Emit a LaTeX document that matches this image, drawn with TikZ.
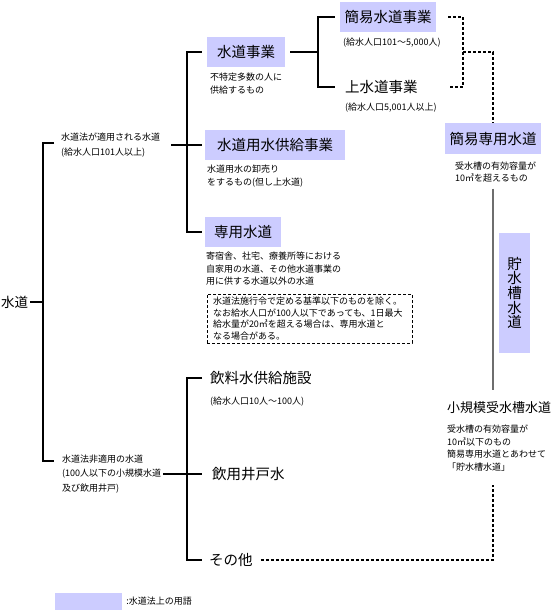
\documentclass[tikz,border=0pt]{standalone}
\usepackage{fontspec}
\setmainfont{Noto Sans CJK JP}
\usepackage{tikz}
\usetikzlibrary{positioning, calc}
\definecolor{termcolor}{RGB}{204,204,255}
\definecolor{linegray}{RGB}{110,110,110}

\begin{document}
\begin{tikzpicture}[
    x=1pt, y=-1pt,
    every node/.style={inner sep=0pt, align=left},
    term/.style={fill=termcolor, minimum height=30pt, align=center, font=\fontsize{14.5}{14.5}\selectfont},
    bigtext/.style={anchor=west, font=\fontsize{14.5}{17}\selectfont},
    smalltext/.style={anchor=west, font=\fontsize{9}{12.5}\selectfont},
    branchtext/.style={anchor=west, font=\fontsize{9}{14.5}\selectfont},
    bline/.style={line width=2pt},
    dline/.style={line width=2pt, dash pattern=on 3pt off 2pt},
    gline/.style={line width=2pt, draw=linegray}
]
    \useasboundingbox (0,0) rectangle (551,611);

    % root
    \node[anchor=west, font=\fontsize{13.5}{14}\selectfont] (suido) at (1,302) {水道};
    \node[branchtext] (tekiyo) at (61,145) {水道法が適用される水道\\(給水人口101人以上)};
    \node[branchtext] (hitekiyo) at (62,474) {水道法非適用の水道\\(100人以下の小規模水道\\及び飲用井戸)};
    \coordinate (trunk) at (43,302);
    \coordinate (tk1) at (54,143);
    \coordinate (tk2) at (54,461);
    \draw[bline] ([xshift=2pt]suido.east) -- (trunk);
    \draw[bline] (tk1) -| (trunk) |- (tk2);

    % water supply law
    \node[term, minimum width=78pt] (jigyo) at (246,52) {水道事業};
    \node[term, minimum width=140pt] (kyokyu) at (275,145) {水道用水供給事業};
    \node[term, minimum width=76pt] (senyo) at (243,232) {専用水道};
    \node[smalltext] (jigyodesc) at (210,83.5) {不特定多数の人に\\供給するもの};
    \node[smalltext] (kyokyudesc) at (207,176) {水道用水の卸売り\\をするもの(但し上水道)};
    \node[smalltext] (senyodesc) at (206,269) {寄宿舎、社宅、療養所等における\\自家用の水道、その他水道事業の\\用に供する水道以外の水道};
    \node[draw, line width=1pt, dash pattern=on 3pt off 2pt, anchor=center,
          text width=193pt, inner xsep=6pt, minimum height=49pt,
          font=\fontsize{9}{11.7}\selectfont] (note) at (309.5,318.5)
          {水道法施行令で定める基準以下のものを除く。\\なお給水人口が100人以下であっても、1日最大\\給水量が20㎥を超える場合は、専用水道と\\なる場合がある。};
    \coordinate (sp1) at (187,145);
    \draw[bline] ([xshift=-5pt]jigyo.west) -| (sp1) |- ([xshift=-3pt]senyo.west);
    \draw[bline] ([xshift=11pt]tekiyo.east) -- ([xshift=-3pt]kyokyu.west);

    % water supply business
    \node[term, minimum width=96pt] (kani) at (388,17) {簡易水道事業};
    \node[bigtext] (josuido) at (345,87) {上水道事業};
    \node[smalltext] (kanidesc) at (343,43) {(給水人口101～5,000人)};
    \node[smalltext] (josuidodesc) at (345,108) {(給水人口5,001人以上)};
    \coordinate (sp2) at (318,52);
    \draw[bline] ([xshift=5pt]jigyo.east) -- (sp2);
    \draw[bline] ([xshift=-5pt]kani.west) -| (sp2) |- ([xshift=-10pt]josuido.west);

    % storage tank
    \node[term, minimum width=96pt, minimum height=31pt] (kanisenyo) at (493,138.5) {簡易専用水道};
    \node[smalltext] (kanisenyodesc) at (455,172) {受水槽の有効容量が\\10㎥を超えるもの};
    \coordinate (dj) at (463,52);
    \draw[dline] ([xshift=12pt]kani.east) -| (dj) |- ($(josuido.east -| kani.east)+(12,0)$);
    \draw[dline] (dj) -| (kanisenyo.north);
    \node[term, minimum width=31pt, minimum height=120pt, font=\fontsize{14.5}{14.6}\selectfont] (chosui) at (514.5,293) {貯\\水\\槽\\水\\道};
    \node[font=\fontsize{13}{14}\selectfont] (shokibo) at (499,408) {小規模受水槽水道};
    \node[smalltext] (shokibodesc) at (447,448) {受水槽の有効容量が\\10㎥以下のもの\\簡易専用水道とあわせて\\「貯水槽水道」};
    \draw[gline] ([yshift=-6pt]kanisenyodesc.south -| kanisenyo.north) -- ([yshift=12pt]shokibo.north -| kanisenyo.north);

    % not under the law
    \node[bigtext] (inryo) at (210,378) {飲料水供給施設};
    \node[smalltext] (inryodesc) at (210,402) {(給水人口10人～100人)};
    \node[bigtext] (ido) at (212,474) {飲用井戸水};
    \node[bigtext] (sonota) at (209,560) {その他};
    \coordinate (sp3) at (187,474);
    \draw[bline] ([xshift=-8pt]inryo.west) -| (sp3) |- ([xshift=-7pt]sonota.west);
    \draw[bline] ([xshift=2pt]hitekiyo.east) -- ([xshift=-10pt]ido.west);
    \draw[dline] ([xshift=8pt]sonota.east) -| ([yshift=-14pt]shokibodesc.south -| kanisenyo.north);

    % legend
    \node[fill=termcolor, minimum width=67pt, minimum height=17pt] (legendbox) at (88.5,601.5) {};
    \node[smalltext, right=4pt of legendbox] (legendtext) {:水道法上の用語};
\end{tikzpicture}
\end{document}
